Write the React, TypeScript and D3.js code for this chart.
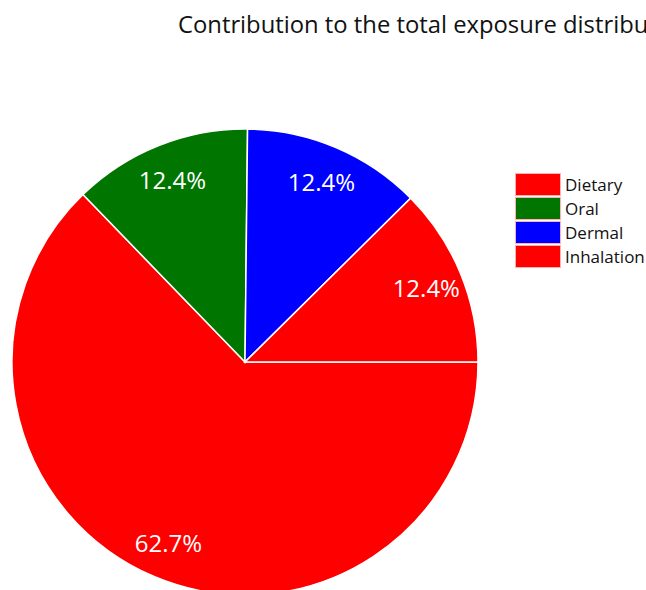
import React from "react";
import * as d3 from "d3";

const categories = ["Dietary", "Oral", "Dermal", "Inhalation"];
const values = [62.7, 12.4, 12.4, 12.4];
const colors = ["#ff0000", "#007500", "#0000ff", "#ff0000"];
const title = "Contribution to the total exposure distribution";

export default function App() {
  const W = 646, H = 590;
  const cx = 245, cy = 362, R = 233;
  const pie = d3.pie<number>().sort(null).startAngle(Math.PI / 2).endAngle(Math.PI / 2 + 2 * Math.PI);
  const arcs = pie(values);
  const arc = d3.arc<d3.PieArcDatum<number>>().innerRadius(0).outerRadius(R);
  const labelArc = d3.arc<d3.PieArcDatum<number>>().innerRadius(196).outerRadius(196);
  const font = "'Open Sans', 'Noto Sans', sans-serif";
  return (
    <svg width={W} height={H} style={{ position: "absolute", left: 0, top: 0, background: "#fff" }} fontFamily={font}>
      <text x={178} y={33} fontSize={23.8} fill="#111">{title}</text>
      <g transform={`translate(${cx},${cy})`}>
        {arcs.map((a, i) => (
          <path key={i} d={arc(a) as string} fill={colors[i]} stroke="#fff" strokeWidth={1.5} />
        ))}
        {arcs.map((a, i) => {
          const [x, y] = labelArc.centroid(a);
          return (
            <text key={"l" + i} x={x} y={y} fill="#fff" fontSize={24} textAnchor="middle" dominantBaseline="central">
              {values[i].toFixed(1) + "%"}
            </text>
          );
        })}
      </g>
      <g transform="translate(515,173)">
        {categories.map((c, i) => (
          <g key={c} transform={`translate(0,${i * 24})`}>
            <rect x={0.5} y={0.5} width={45} height={22} fill={colors[i]} stroke="#ffb0b0" strokeWidth={1} />
            <text x={50} y={18} fontSize={17} fill="#111">{c}</text>
          </g>
        ))}
      </g>
    </svg>
  );
}
